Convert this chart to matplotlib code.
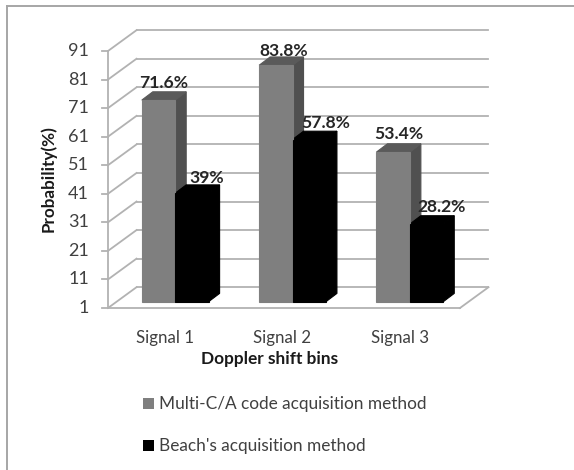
import matplotlib
matplotlib.use("Agg")
import matplotlib.pyplot as plt
from matplotlib.lines import Line2D
from matplotlib.patches import Polygon, Rectangle

categories = ["Signal 1", "Signal 2", "Signal 3"]
multi_ca = [71.6, 83.8, 53.4]
beach = [39, 57.8, 28.2]
multi_labels = ["71.6%", "83.8%", "53.4%"]
beach_labels = ["39%", "57.8%", "28.2%"]
yticks = [1, 11, 21, 31, 41, 51, 61, 71, 81, 91]
series_names = ["Multi-C/A code acquisition method", "Beach's acquisition method"]

W, H = 574, 470
plt.rcParams["font.family"] = ["Lato", "DejaVu Sans"]
fig = plt.figure(figsize=(W / 100, H / 100), dpi=100)
fig.patch.set_facecolor("white")

# Axes spans the front plane of the 3D box, in figure pixels
X0, X1, Y_BOT, Y_TOP = 108, 460, 308, 51
ax = fig.add_axes([X0 / W, 1 - Y_BOT / H, (X1 - X0) / W, (Y_BOT - Y_TOP) / H])
ax.set_xlim(0, 3)
ax.set_ylim(1, 91)
ax.axis("off")

px_x = 3 / (X1 - X0)
px_y = 90 / (Y_BOT - Y_TOP)
WALL_DX, WALL_DY = 28.5 * px_x, 20.8 * px_y
BAR_DX, BAR_DY = 11 * px_x, 8.3 * px_y
BAR_W = 33.4 * px_x
BAR_START = 33.8 * px_x
LIFT = 6.3 * px_y  # columns stand slightly in from the front edge of the floor

GRID = "#b2b2b2"
INK = "#404040"
LW = 1.3


def guide(xs, ys, lw=LW):
    ax.add_line(Line2D(xs, ys, color=GRID, lw=lw, clip_on=False, zorder=1))


# Back wall gridlines, side wall diagonals and tick stubs
for v in yticks:
    guide([WALL_DX, 3 + WALL_DX], [v + WALL_DY, v + WALL_DY])
    guide([0, WALL_DX], [v, v + WALL_DY])
    guide([-6 * px_x, 0], [v, v])
guide([0, 0], [1, 91])
guide([0, 3], [1, 1])
guide([3, 3 + WALL_DX], [1, 1 + WALL_DY])


def bar3d(x, value, front, side, top):
    y0 = 1 + LIFT
    y1 = value + LIFT
    ax.add_patch(Polygon([(x + BAR_W, y0), (x + BAR_W + BAR_DX, y0 + BAR_DY),
                          (x + BAR_W + BAR_DX, y1 + BAR_DY), (x + BAR_W, y1)],
                         fc=side, ec=side, lw=0.8, clip_on=False, zorder=3))
    ax.add_patch(Polygon([(x, y1), (x + BAR_DX, y1 + BAR_DY),
                          (x + BAR_W + BAR_DX, y1 + BAR_DY), (x + BAR_W, y1)],
                         fc=top, ec=top, lw=0.8, clip_on=False, zorder=3))
    ax.add_patch(Rectangle((x, y0), BAR_W, y1 - y0, fc=front, ec=front, lw=0.8,
                           clip_on=False, zorder=4))


for i in range(len(categories)):
    x = i + BAR_START
    bar3d(x, multi_ca[i], "#7f7f7f", "#505050", "#5a5a5a")
    bar3d(x + BAR_W, beach[i], "#000000", "#000000", "#000000")

# Value labels sit above each column top, nudged clear of neighbouring columns
multi_nudge = [(0, 9), (2, 5.5), (0, 9.5)]
beach_nudge = [(9, 7), (11, 8), (9, 8.5)]
for i in range(len(categories)):
    x = i + BAR_START
    cx = x + (BAR_W + BAR_DX) / 2
    top = multi_ca[i] + LIFT + BAR_DY
    ax.text(cx + multi_nudge[i][0] * px_x, top + multi_nudge[i][1] * px_y, multi_labels[i],
            ha="center", va="center", fontsize=12.6, fontweight="bold", color="#262626", zorder=6)
    top = beach[i] + LIFT + BAR_DY
    ax.text(cx + BAR_W + beach_nudge[i][0] * px_x, top + beach_nudge[i][1] * px_y, beach_labels[i],
            ha="center", va="center", fontsize=12.6, fontweight="bold", color="#262626", zorder=6)

# Axis tick labels and titles
for v in yticks:
    ax.text(-19 * px_x, v, str(v), ha="right", va="center", fontsize=13, color=INK)
for i, c in enumerate(categories):
    ax.text(i + 0.486, 1 - 30.5 * px_y, c, ha="center", va="center", fontsize=12.2, color=INK)
fig.text(270 / W, 1 - 359 / H, "Doppler shift bins", ha="center", va="center",
         fontsize=12.4, fontweight="bold", color="#1a1a1a")
fig.text(48 / W, 1 - 179 / H, "Probability(%)", ha="center", va="center", rotation=90,
         fontsize=12.3, fontweight="bold", color="#1a1a1a")

# Legend stacked beneath the chart
for name, color, ypos in zip(series_names, ["#7f7f7f", "#000000"], [403.5, 445.5]):
    fig.add_artist(Rectangle((143 / W, 1 - (ypos + 5.5) / H), 11 / W, 11 / H, fc=color, ec="none",
                             transform=fig.transFigure))
    fig.text(159 / W, 1 - ypos / H, name, ha="left", va="center", fontsize=12.4, color=INK)

# Chart frame visible along the top and left edges only
for xs, ys in [([7, 7], [470, 5.5]), ([7, 574], [5.5, 5.5])]:
    fig.add_artist(Line2D([p / W for p in xs], [1 - p / H for p in ys], color="#a6a6a6", lw=1.4,
                          transform=fig.transFigure))

fig.savefig("out.png", dpi=100)
